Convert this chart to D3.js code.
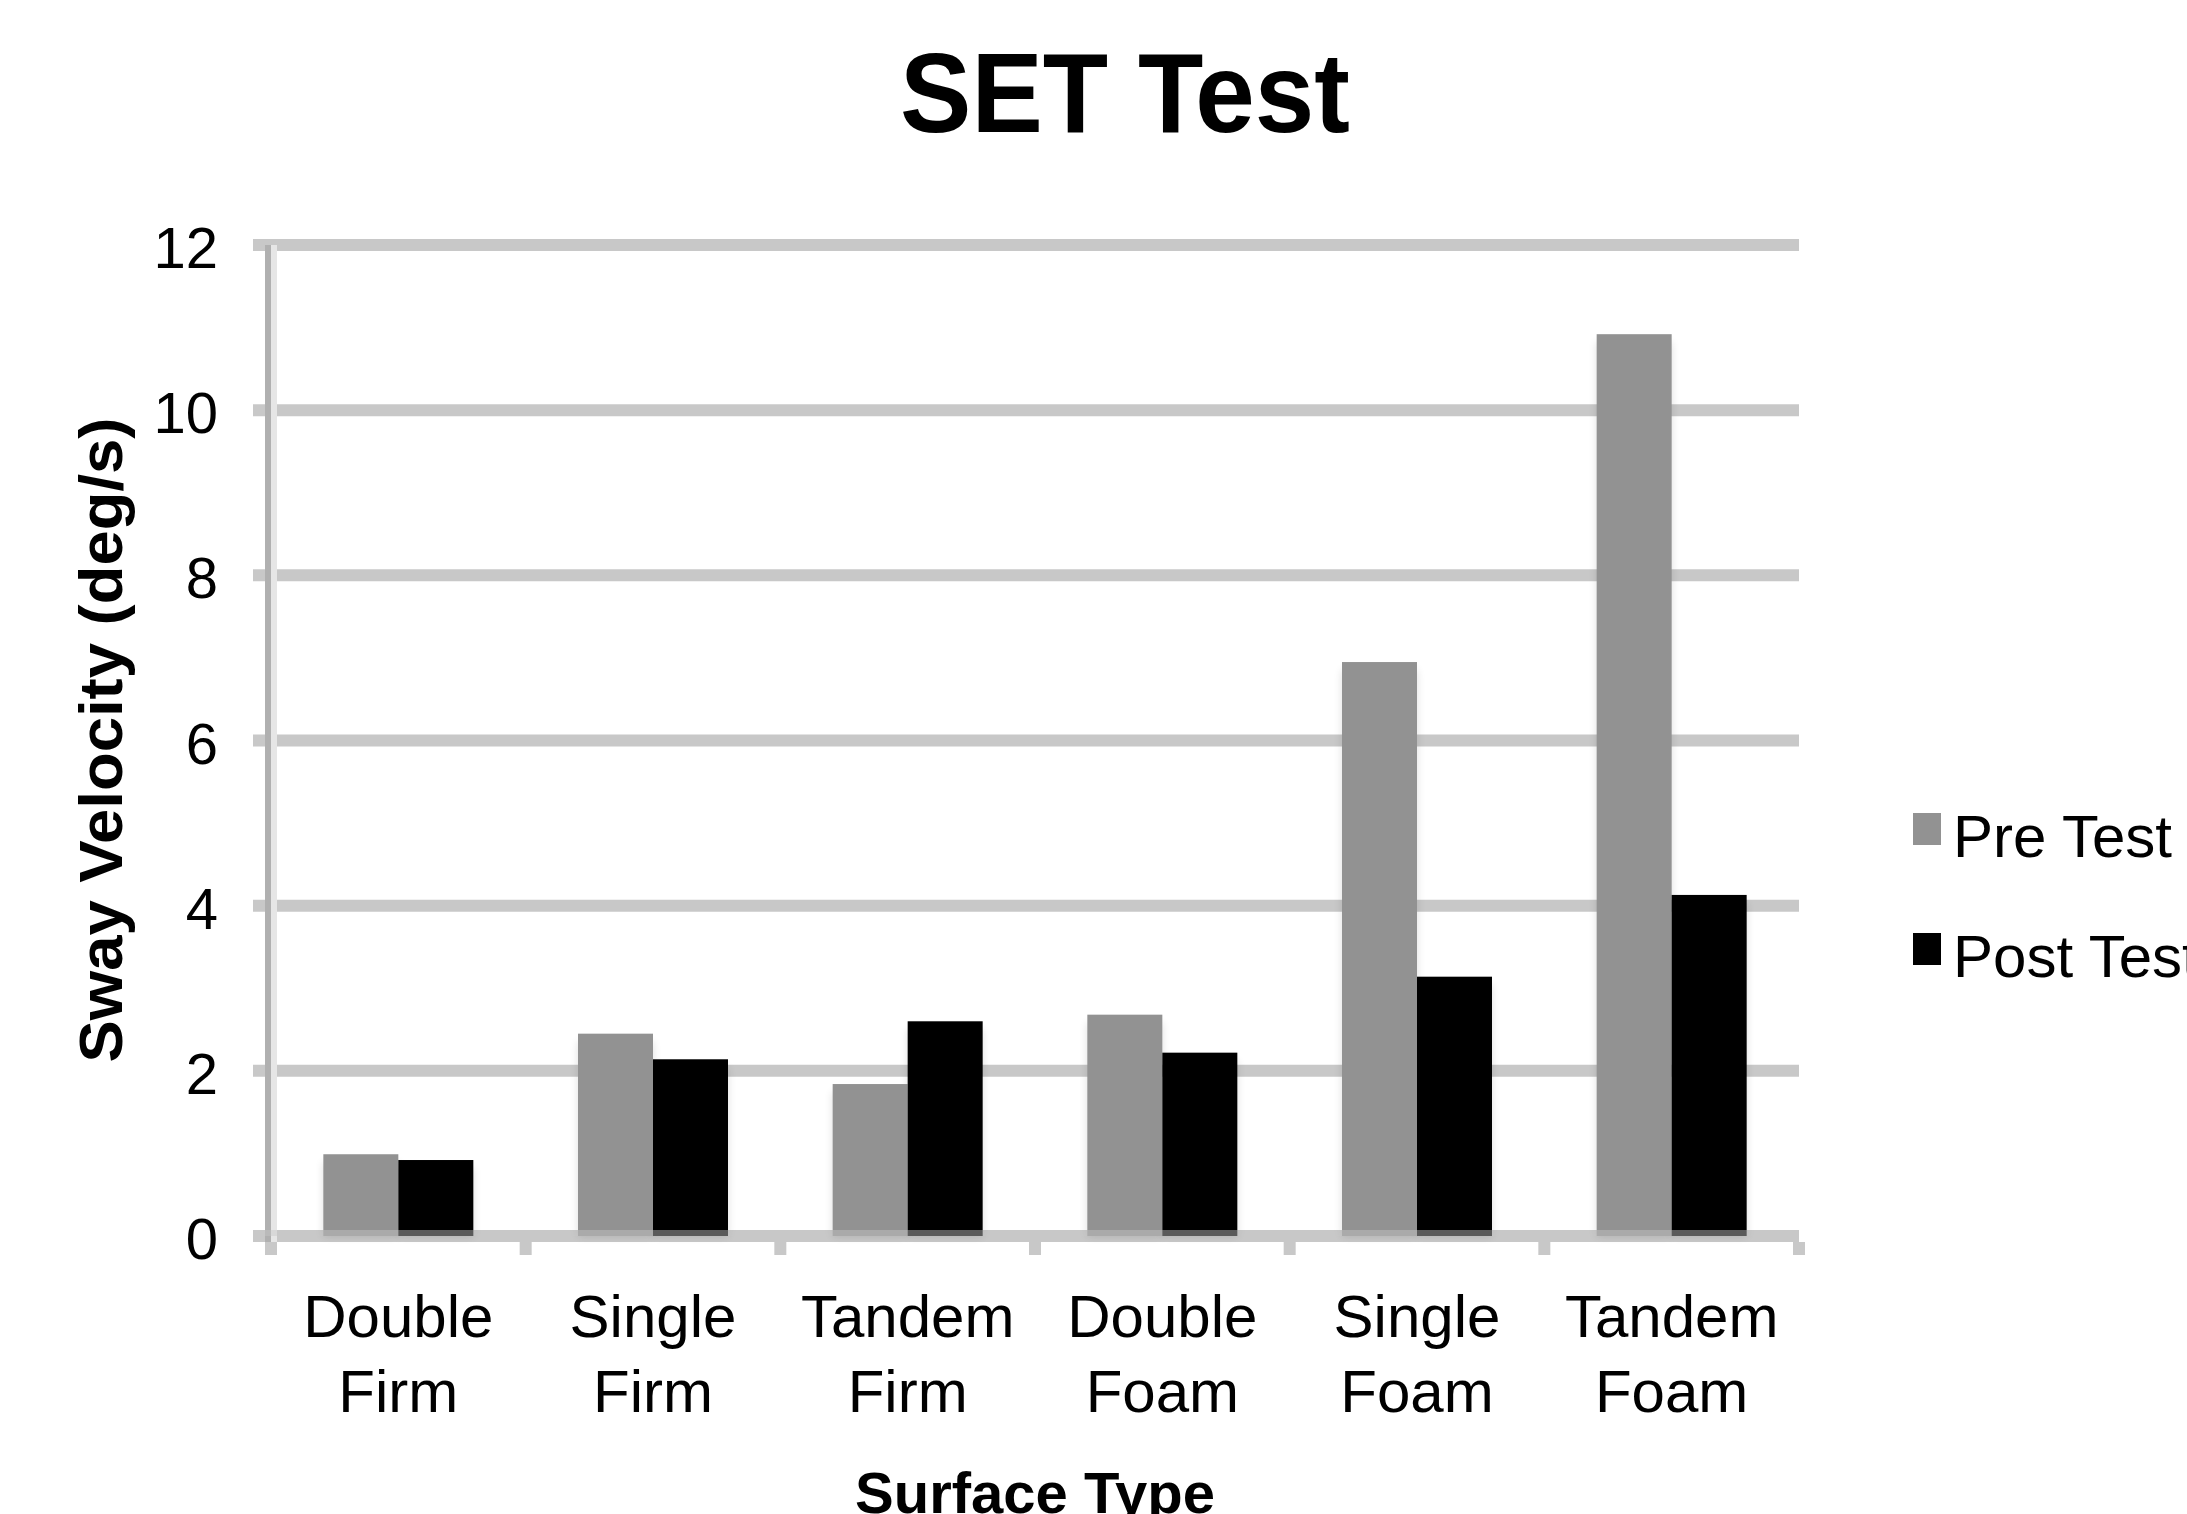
<!DOCTYPE html>
<html>
<head>
<meta charset="utf-8">
<script src="https://cdn.jsdelivr.net/npm/d3@7"></script>
<style>
  html, body { margin: 0; padding: 0; background: #fff; }
  svg { display: block; font-family: "Liberation Sans", Arial, sans-serif; }
</style>
</head>
<body>
<svg id="chart" width="2187" height="1514"></svg>
<script>
// Sway velocity (deg/s) per stance / surface condition, before and after
const categories = [
  ["Double", "Firm"], ["Single", "Firm"], ["Tandem", "Firm"],
  ["Double", "Foam"], ["Single", "Foam"], ["Tandem", "Foam"]
];
const seriesNames = ["Pre Test", "Post Test"];
const preTest  = [0.99, 2.45, 1.84, 2.68, 6.95, 10.92];
const postTest = [0.92, 2.14, 2.60, 2.22, 3.14, 4.13];
const yTicks = [0, 2, 4, 6, 8, 10, 12];

const colors = { "Pre Test": "#929292", "Post Test": "#000000" };
const gridColor = "#c8c8c8";

const svg = d3.select("#chart");
const W = 2187, H = 1514;
const plot = { left: 271, right: 1799, top: 245, bottom: 1236 };

const keys = categories.map(c => c.join(" "));
const values = { "Pre Test": preTest, "Post Test": postTest };

const x = d3.scaleBand()
  .domain(keys)
  .range([plot.left, plot.right])
  .paddingInner(0.411)
  .paddingOuter(0.2055);
const xs = d3.scaleBand().domain(seriesNames).range([0, x.bandwidth()]).padding(0);
const y = d3.scaleLinear().domain([0, 12]).range([plot.bottom, plot.top]);
const step = x.step();

// soft shadow for bars
const defs = svg.append("defs");
defs.append("filter").attr("id", "soft").attr("x", "-50%").attr("y", "-50%")
  .attr("width", "200%").attr("height", "200%")
  .append("feGaussianBlur").attr("stdDeviation", 4);

// Title
svg.append("text")
  .attr("x", 1125).attr("y", 132)
  .attr("text-anchor", "middle")
  .attr("font-size", 114).attr("font-weight", "bold")
  .attr("textLength", 450).attr("lengthAdjust", "spacingAndGlyphs")
  .text("SET Test");

// Horizontal gridlines (extend left of the axis as tick marks)
svg.append("g").selectAll("line")
  .data(yTicks.filter(t => t > 0))
  .join("line")
  .attr("x1", 253).attr("x2", plot.right)
  .attr("y1", d => y(d)).attr("y2", d => y(d))
  .attr("stroke", gridColor).attr("stroke-width", 12);

// Baseline band + category ticks
svg.append("rect")
  .attr("x", 253).attr("y", y(0) - 6)
  .attr("width", plot.right - 253).attr("height", 12)
  .attr("fill", gridColor);
svg.append("g").selectAll("rect")
  .data(d3.range(keys.length + 1))
  .join("rect")
  .attr("x", i => plot.left + i * step - 6)
  .attr("y", y(0) + 6)
  .attr("width", 12).attr("height", 13)
  .attr("fill", gridColor);

// Vertical axis line
svg.append("rect")
  .attr("x", plot.left - 6).attr("y", plot.top)
  .attr("width", 6).attr("height", y(0) - plot.top + 6)
  .attr("fill", "#b0b0b0");
svg.append("rect")
  .attr("x", plot.left).attr("y", plot.top)
  .attr("width", 6).attr("height", y(0) - plot.top + 6)
  .attr("fill", "#e6e6e6");

// Bars
const groups = svg.append("g").selectAll("g")
  .data(keys)
  .join("g")
  .attr("transform", d => `translate(${x(d)},0)`);

const barData = (k, i) => seriesNames.map(s => ({ s, v: values[s][i] }));

groups.selectAll("rect.shadow")
  .data((k, i) => barData(k, i))
  .join("rect")
  .attr("class", "shadow")
  .attr("x", d => xs(d.s))
  .attr("y", d => y(d.v) + 8)
  .attr("width", xs.bandwidth())
  .attr("height", d => y(0) - y(d.v) - 8)
  .attr("fill", "#000").attr("opacity", 0.13)
  .attr("filter", "url(#soft)");

groups.selectAll("rect.bar")
  .data((k, i) => barData(k, i))
  .join("rect")
  .attr("class", "bar")
  .attr("x", d => xs(d.s))
  .attr("y", d => y(d.v))
  .attr("width", xs.bandwidth())
  .attr("height", d => y(0) - y(d.v))
  .attr("fill", d => colors[d.s]);

// Axis band overlapping the bar bottoms
svg.append("rect")
  .attr("x", 253).attr("y", y(0) - 6)
  .attr("width", plot.right - 253).attr("height", 6)
  .attr("fill", gridColor).attr("opacity", 0.45);

// Y tick labels
svg.append("g").selectAll("text")
  .data(yTicks)
  .join("text")
  .attr("x", 218).attr("y", d => y(d) + 23)
  .attr("text-anchor", "end")
  .attr("font-size", 58)
  .text(d => d);

// Category labels (two lines)
const cat = svg.append("g").selectAll("text")
  .data(categories)
  .join("text")
  .attr("text-anchor", "middle")
  .attr("font-size", 60)
  .attr("x", (d, i) => x(keys[i]) + x.bandwidth() / 2);
cat.append("tspan")
  .attr("x", (d, i) => x(keys[i]) + x.bandwidth() / 2)
  .attr("y", 1337).text(d => d[0]);
cat.append("tspan")
  .attr("x", (d, i) => x(keys[i]) + x.bandwidth() / 2)
  .attr("y", 1412).text(d => d[1]);

// Axis titles
svg.append("text")
  .attr("x", (plot.left + plot.right) / 2).attr("y", 1513)
  .attr("text-anchor", "middle")
  .attr("font-size", 58).attr("font-weight", "bold")
  .text("Surface Type");

svg.append("text")
  .attr("transform", "translate(122,740) rotate(-90)")
  .attr("text-anchor", "middle")
  .attr("font-size", 61).attr("font-weight", "bold")
  .attr("textLength", 645).attr("lengthAdjust", "spacingAndGlyphs")
  .text("Sway Velocity (deg/s)");

// Legend
const legend = svg.append("g").selectAll("g")
  .data(seriesNames)
  .join("g")
  .attr("transform", (d, i) => `translate(1913,${813 + i * 120})`);
legend.append("rect")
  .attr("width", 28).attr("height", 32)
  .attr("fill", d => colors[d]);
legend.append("text")
  .attr("x", 40).attr("y", 44)
  .attr("font-size", 60)
  .text(d => d);
</script>
</body>
</html>
